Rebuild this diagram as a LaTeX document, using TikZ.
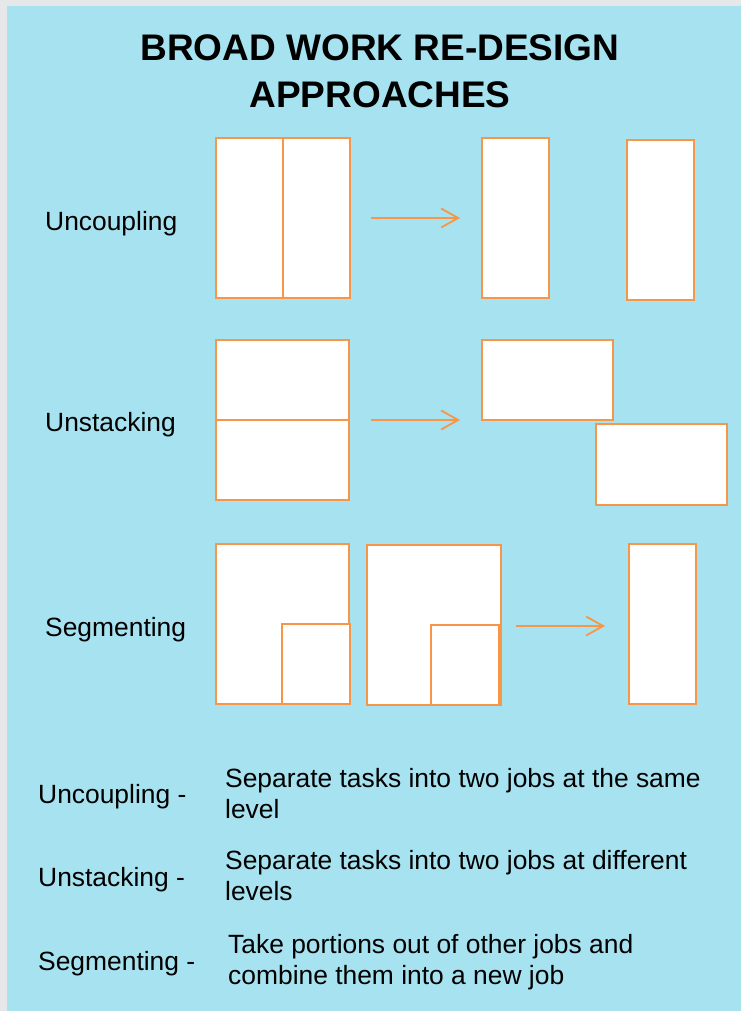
\documentclass[tikz,border=0pt]{standalone}
\usepackage{fontspec}
\setmainfont{Liberation Sans}
\usetikzlibrary{arrows.meta}
\definecolor{bgblue}{HTML}{A6E2EF}
\definecolor{framegray}{HTML}{E6E7E9}
\definecolor{jorange}{HTML}{F79646}
\begin{document}
\begin{tikzpicture}[x=1pt,y=-1pt,
  jobbox/.style={draw=jorange, fill=white, line width=2.8pt, inner sep=0pt, outer sep=0pt, anchor=north west},
  divline/.style={draw=jorange, line width=2.4pt},
  lbl/.style={anchor=base west, inner sep=0pt, font=\fontsize{26.4}{31.7}\selectfont},
  ttl/.style={anchor=base, inner sep=0pt, font=\fontsize{37}{44}\selectfont\bfseries},
  arr/.style={draw=jorange, line width=1.8pt, -{Straight Barb[length=17pt,width=19pt]}}]
\useasboundingbox (0,0) rectangle (741,1011);
\fill[framegray] (0,0) rectangle (741,1011);
\fill[bgblue] (7,6) rectangle (741,1011);
% title
\node[ttl] (t1) at (380,61) {BROAD WORK RE-DESIGN};
\node[ttl] (t2) at (380,108) {APPROACHES};
% row labels
\node[lbl] (l1) at (45,230) {Uncoupling};
\node[lbl] (l2) at (45,431) {Unstacking};
\node[lbl] (l3) at (45,636) {Segmenting};
% uncoupling
\node[jobbox, minimum width=134pt, minimum height=160pt] (u1) at (216,138) {};
\draw[divline] (u1.north) -- (u1.south);
\node[jobbox, minimum width=67pt, minimum height=160pt] (u2) at (482,138) {};
\node[jobbox, minimum width=67pt, minimum height=160pt] (u3) at (627,140) {};
\coordinate (ua) at (371,218);
\coordinate (ub) at (460,218);
\draw[arr] (ua) -- (ub);
% unstacking
\node[jobbox, minimum width=133pt, minimum height=160pt] (s1) at (216,340) {};
\draw[divline] (s1.west) -- (s1.east);
\node[jobbox, minimum width=131pt, minimum height=80pt] (s2) at (482,340) {};
\node[jobbox, minimum width=131pt, minimum height=81pt] (s3) at (596,424) {};
\coordinate (sa) at (371,420);
\coordinate (sb) at (460,420);
\draw[arr] (sa) -- (sb);
% segmenting
\node[jobbox, minimum width=133pt, minimum height=160pt] (g1) at (216,544) {};
\node[jobbox, minimum width=68pt, minimum height=80pt] (g1s) at (282,624) {};
\node[jobbox, minimum width=134pt, minimum height=160pt] (g2) at (367,545) {};
\node[jobbox, minimum width=68pt, minimum height=80pt] (g2s) at (431,625) {};
\node[jobbox, minimum width=67pt, minimum height=160pt] (g3) at (629,544) {};
\coordinate (ga) at (516,626);
\coordinate (gb) at (605,626);
\draw[arr] (ga) -- (gb);
% legend
\node[lbl] (d1) at (38,803) {Uncoupling -};
\node[lbl] (d1a) at (225,787) {Separate tasks into two jobs at the same};
\node[lbl] (d1b) at (225,818) {level};
\node[lbl] (d2) at (38,886) {Unstacking -};
\node[lbl] (d2a) at (225,869) {Separate tasks into two jobs at different};
\node[lbl] (d2b) at (225,900) {levels};
\node[lbl] (d3) at (38,970) {Segmenting -};
\node[lbl] (d3a) at (228,953) {Take portions out of other jobs and};
\node[lbl] (d3b) at (228,984) {combine them into a new job};
\end{tikzpicture}
\end{document}
